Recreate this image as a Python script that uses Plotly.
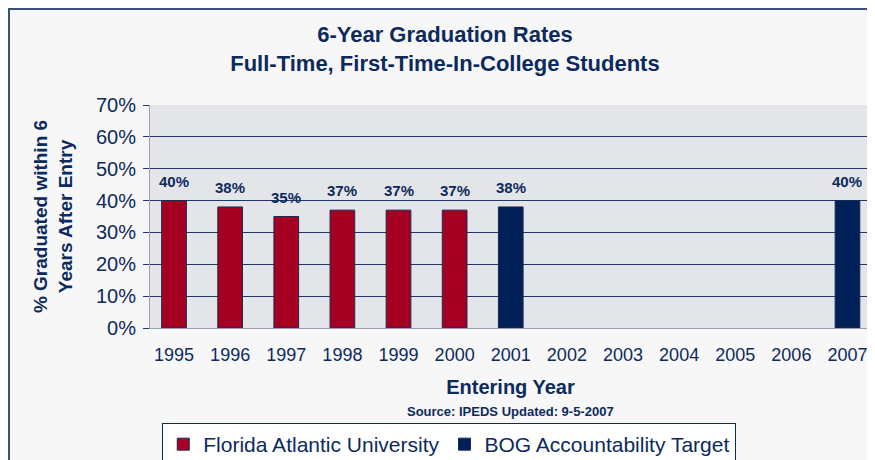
import plotly.graph_objects as go

# Entering years (categories) and graduation rates (%)
years = ['1995', '1996', '1997', '1998', '1999', '2000', '2001',
         '2002', '2003', '2004', '2005', '2006', '2007']
fau_rates = [40, 38, 35, 37, 37, 37, None, None, None, None, None, None, None]
bog_target = [None, None, None, None, None, None, 38, None, None, None, None, None, 40]

navy = '#0c2a5c'
fig = go.Figure()

fig.add_trace(go.Bar(
    x=years, y=fau_rates, name='Florida Atlantic University',
    marker=dict(color='#a50021', line=dict(color='#1a2a55', width=1)),
))
fig.add_trace(go.Bar(
    x=years, y=bog_target, name='BOG Accountability Target',
    marker=dict(color='#002157', line=dict(color='#1a2a55', width=1)),
))

# page body has an 8px margin, so the figure is a bit smaller than the window
fig.update_layout(
    width=867, height=452,
    barmode='overlay', bargap=0.56,
    paper_bgcolor='#f7f7f8', plot_bgcolor='#e4e5e9',
    margin=dict(l=142, r=4, t=97, b=132, autoexpand=False),
    font=dict(family='Arial', color=navy),
    title=dict(
        text='<b>6-Year Graduation Rates<br>Full-Time, First-Time-In-College Students</b>',
        x=0.504, xanchor='center', y=0.925, yanchor='top',
        font=dict(size=22, color=navy),
    ),
    xaxis=dict(
        type='category', range=[-0.428, 12.419], showgrid=False, ticks='',
        tickfont=dict(size=18),
        showline=True, linecolor='#9aa0b0', linewidth=1, automargin=False,
        ticklabelstandoff=10,
        title=dict(text='<b>Entering Year</b>', font=dict(size=20), standoff=16),
    ),
    yaxis=dict(
        range=[0, 70], dtick=10, ticksuffix='%', tickfont=dict(size=20),
        gridcolor='#1f3a6a', gridwidth=1, zeroline=False,
        ticks='outside', ticklen=6, tickcolor='#1f3a6a', automargin=False,
        ticklabelstandoff=3,
        showline=True, linecolor='#9aa0b0', linewidth=1, mirror=True,
        title=dict(text='<b>% Graduated within 6<br>Years After Entry</b>',
                   font=dict(size=19), standoff=18),
    ),
    legend=dict(
        orientation='h', x=0.017, xanchor='left', y=-0.426, yanchor='top',
        bgcolor='#ffffff', bordercolor=navy, borderwidth=1,
        font=dict(size=21, color=navy), traceorder='normal',
        itemwidth=30,
    ),
    shapes=[dict(
        type='rect', xref='paper', yref='paper',
        x0=-0.1956, x1=1.03, y0=-0.7, y1=1.4305,
        line=dict(color='#3a5078', width=2), layer='below',
    )],
)

# value labels above the bars (category index positions)
for vals in (fau_rates, bog_target):
    for i, v in enumerate(vals):
        if v is not None:
            fig.add_annotation(x=i, y=v, xref='x', yref='y',
                               text=f'<b>{v}%</b>', showarrow=False,
                               yanchor='bottom', yshift=9,
                               font=dict(family='Arial', size=15, color=navy))

fig.add_annotation(
    text='<b>Source: IPEDS Updated: 9-5-2007</b>', showarrow=False,
    xref='paper', yref='paper', x=0.5, y=-0.373, yanchor='middle',
    font=dict(size=13, color=navy),
)

fig.write_html('out.html')
